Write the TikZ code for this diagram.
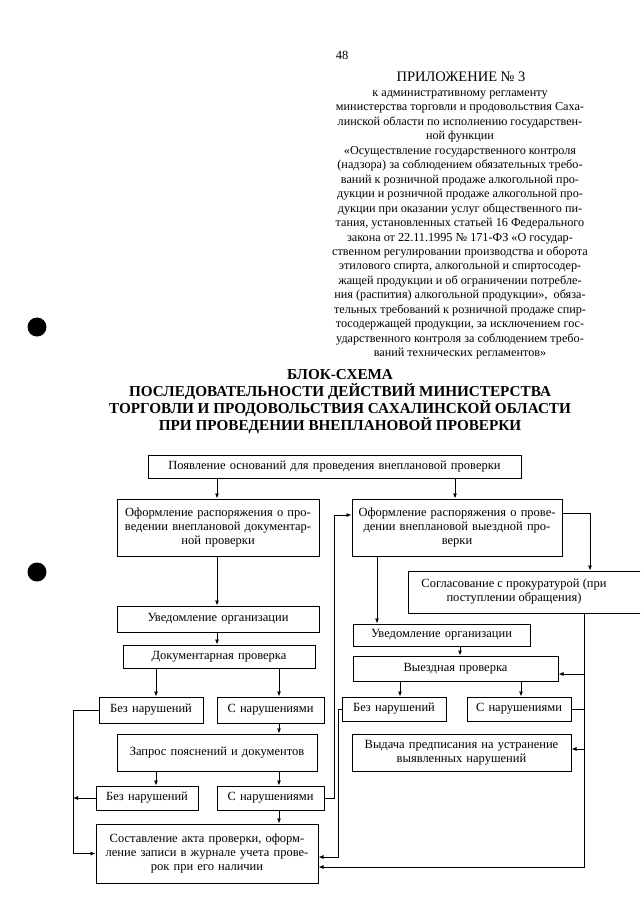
\documentclass[tikz,border=0pt]{standalone}
\usepackage{fontspec}
\setmainfont{Liberation Serif}
\usetikzlibrary{arrows.meta}
\newcommand\bx[6]{%
  \pgfmathsetmacro\bxw{#4-#2}\pgfmathsetmacro\bxh{#5-#3}%
  \node[box, minimum width=\bxw pt, minimum height=\bxh pt, text width=\bxw pt] (#1) at ({(#2+#4)/2},{(#3+#5)/2}) {#6};}
\begin{document}
\begin{tikzpicture}[x=1pt,y=-1pt,
  box/.style={draw, line width=1pt, inner sep=0pt, align=center, font=\fontsize{12.5}{14}\selectfont},
  lbl/.style={inner sep=0pt, align=center, font=\fontsize{12.5}{14}\selectfont},
  arr/.style={line width=0.8pt, -{Latex[length=5pt,width=4pt]}},
  ln/.style={line width=0.8pt}]
\useasboundingbox (0,0) rectangle (640,905);
\clip (0,0) rectangle (640,905);
\fill[white] (0,0) rectangle (640,905);

% punch holes
\fill[black] (37,327) circle (9.5);
\fill[black] (37,572) circle (9.5);

% header
\node[lbl] (pg) at (342,55) {48};
\node[lbl, font=\fontsize{14.5}{16}\selectfont] (app) at (461,77) {ПРИЛОЖЕНИЕ № 3};
\node[lbl, font=\fontsize{12.2}{14.45}\selectfont] (hdr) at (460,225) {к административному регламенту\\
министерства торговли и продовольствия Саха-\\
линской области по исполнению государствен-\\
ной функции\\
«Осуществление государственного контроля\\
(надзора) за соблюдением обязательных требо-\\
ваний к розничной продаже алкогольной про-\\
дукции и розничной продаже алкогольной про-\\
дукции при оказании услуг общественного пи-\\
тания, установленных статьей 16 Федерального\\
закона от 22.11.1995 № 171-ФЗ «О государ-\\
ственном регулировании производства и оборота\\
этилового спирта, алкогольной и спиртосодер-\\
жащей продукции и об ограничении потребле-\\
ния (распития) алкогольной продукции»,~ обяза-\\
тельных требований к розничной продаже спир-\\
тосодержащей продукции, за исключением гос-\\
ударственного контроля за соблюдением требо-\\
ваний технических регламентов»};

% title
\node[lbl, font=\fontsize{15.2}{17}\selectfont\bfseries] (ttl) at (340,402) {БЛОК-СХЕМА\\
ПОСЛЕДОВАТЕЛЬНОСТИ ДЕЙСТВИЙ МИНИСТЕРСТВА\\
ТОРГОВЛИ И ПРОДОВОЛЬСТВИЯ САХАЛИНСКОЙ ОБЛАСТИ\\
ПРИ ПРОВЕДЕНИИ ВНЕПЛАНОВОЙ ПРОВЕРКИ};

% boxes
\bx{top}{148}{455}{521}{478}{Появление оснований для проведения внеплановой проверки}
\bx{l1}{117}{499}{319}{556}{Оформление распоряжения о про-\\ведении внеплановой документар-\\ной проверки}
\bx{lu}{117}{606}{319}{632}{Уведомление организации}
\bx{ld}{123}{645}{315}{668}{Документарная проверка}
\bx{lb1}{99}{697}{203}{723}{Без нарушений}
\bx{lc1}{217}{697}{324}{723}{С нарушениями}
\bx{lq}{117}{734}{317}{771}{Запрос пояснений и документов}
\bx{lb2}{96}{786}{198}{810}{Без нарушений}
\bx{lc2}{217}{786}{324}{810}{С нарушениями}
\bx{fin}{96}{824}{318}{883}{Составление акта проверки, оформ-\\ление записи в журнале учета прове-\\рок при его наличии}

\bx{r1}{352}{499}{562}{556}{Оформление распоряжения о прове-\\дении внеплановой выездной про-\\верки}
\bx{sog}{408}{571}{650}{613}{}
\node[lbl] (sogt) at (514,592) {Согласование с прокуратурой (при\\поступлении обращения)};
\bx{ru}{353}{624}{530}{646}{Уведомление организации}
\bx{rv}{353}{656}{558}{681}{Выездная проверка}
\bx{rb}{342}{697}{446}{721}{Без нарушений}
\bx{rc}{467}{697}{571}{721}{С нарушениями}
\bx{rp}{352}{734}{571}{771}{Выдача предписания на устранение\\выявленных нарушений}

% helper levels
\coordinate (xa) at (217,0);
\coordinate (xb) at (455,0);
\coordinate (xL1) at (156,0);
\coordinate (xL2) at (279,0);
\coordinate (xLL) at (73,0);
\coordinate (xM) at (334,0);
\coordinate (xMM) at (338,0);
\coordinate (xR) at (584,0);
\coordinate (xRR) at (590,0);
\coordinate (xRU) at (377,0);
\coordinate (xRV) at (460,0);
\coordinate (xRB) at (400,0);
\coordinate (xRC) at (521,0);
\coordinate (y513) at (0,513);
\coordinate (y515) at (0,515);
\coordinate (y674) at (0,674);
\coordinate (y749) at (0,749);
\coordinate (y857) at (0,857);
\coordinate (y867) at (0,867);

% connectors, left
\draw[arr] (top.south -| xa) -- (l1.north -| xa);
\draw[arr] (top.south -| xb) -- (r1.north -| xb);
\draw[arr] (l1.south -| xa) -- (lu.north -| xa);
\draw[arr] (lu.south -| xa) -- (ld.north -| xa);
\draw[arr] (ld.south -| xL1) -- (lb1.north -| xL1);
\draw[arr] (ld.south -| xL2) -- (lc1.north -| xL2);
\draw[arr] (lc1.south -| xL2) -- (lq.north -| xL2);
\draw[arr] (lq.south -| xL1) -- (lb2.north -| xL1);
\draw[arr] (lq.south -| xL2) -- (lc2.north -| xL2);
\draw[arr] (lc2.south -| xL2) -- (fin.north -| xL2);
\draw[arr] (lb1.west) -| (xLL |- fin.west) -- (fin.west);
\draw[arr] (lb2.west) -- (lb2.west -| xLL);
\draw[arr] (lc2.east) -| (xM |- y515) -- (r1.west |- y515);

% connectors, right
\draw[arr] (r1.east |- y513) -| (sog.north -| xRR);
\draw[arr] (r1.south -| xRU) -- (ru.north -| xRU);
\draw[arr] (ru.south -| xRV) -- (rv.north -| xRV);
\draw[arr] (sog.south -| xR) |- (rv.east |- y674);
\draw[arr] (rv.south -| xRB) -- (rb.north -| xRB);
\draw[arr] (rv.south -| xRC) -- (rc.north -| xRC);
\draw[ln] (xR |- y674) -- (xR |- rc.east);
\draw[arr] (rc.east) -| (xR |- y867) -- (fin.east |- y867);
\draw[arr] (xR |- y749) -- (rp.east |- y749);
\draw[arr] (rb.west) -| (xMM |- y857) -- (fin.east |- y857);
\end{tikzpicture}
\end{document}
